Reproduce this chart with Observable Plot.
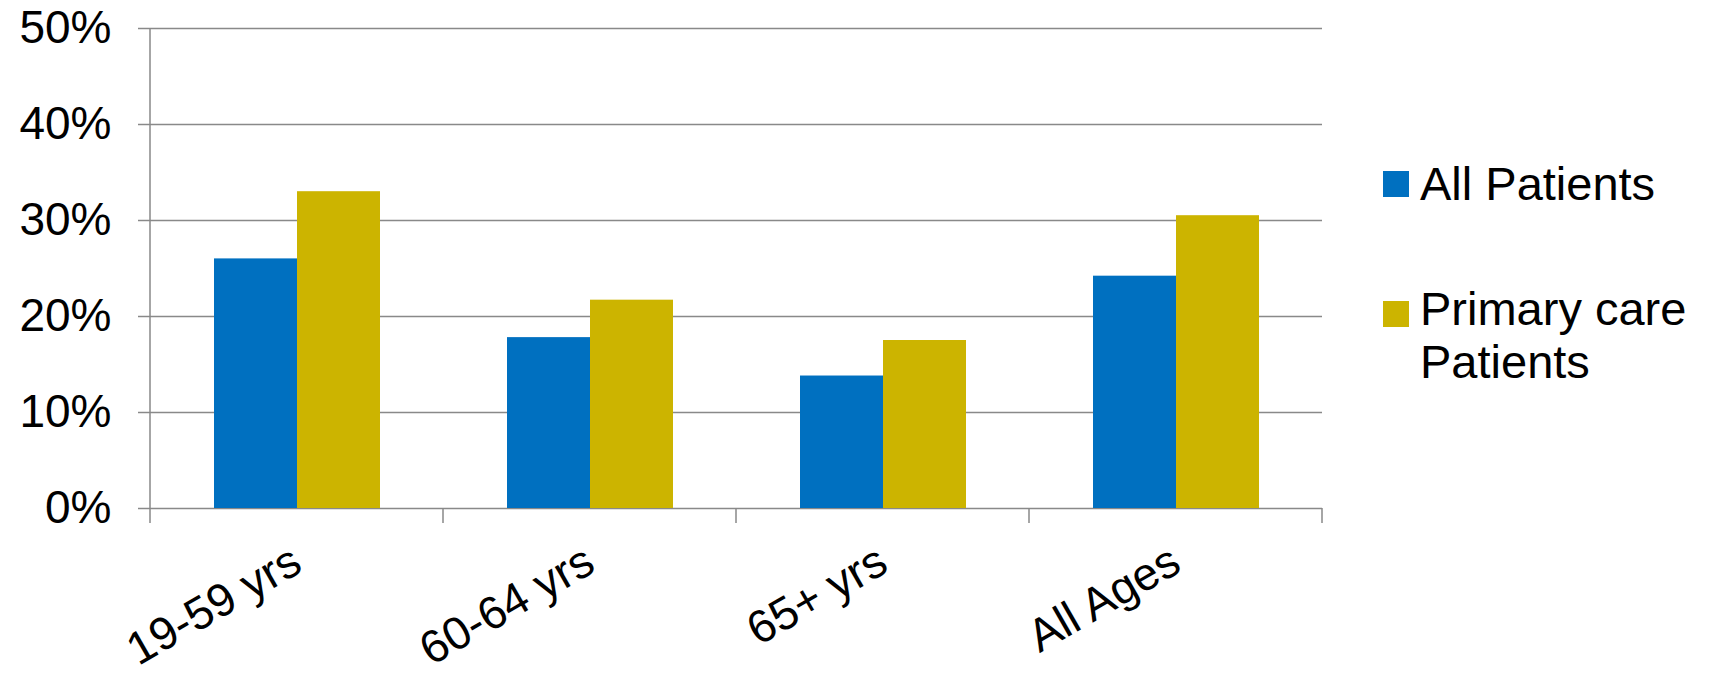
<!DOCTYPE html>
<html><head><meta charset="utf-8">
<script src="https://cdn.jsdelivr.net/npm/d3@7"></script>
<script src="https://cdn.jsdelivr.net/npm/@observablehq/plot@0.6"></script>
<style>
body{margin:0;background:#fff;}
#wrap{position:relative;width:1710px;height:676px;font-family:"Liberation Sans",Arial,sans-serif;}
.sw{position:absolute;width:26px;height:26px;}
.lt{position:absolute;font-size:47px;line-height:53px;color:#000;white-space:nowrap;}
</style></head><body><div id="wrap"></div>
<script>
const categories = ["19-59 yrs", "60-64 yrs", "65+ yrs", "All Ages"];
const seriesNames = ["All Patients", "Primary care Patients"];
const legendLabels = [["All Patients"], ["Primary care", "Patients"]];
const allPatients = [0.260, 0.178, 0.138, 0.242];
const primaryCare = [0.330, 0.217, 0.175, 0.305];
const seriesColors = ["#0070C0", "#CCB400"];
const yTicks = [0, 0.1, 0.2, 0.3, 0.4, 0.5];

const data = categories.flatMap((c, i) => [
  {cat: c, series: seriesNames[0], value: allPatients[i]},
  {cat: c, series: seriesNames[1], value: primaryCare[i]}
]);

const gridColor = "#898989";

const plot = Plot.plot({
  width: 1710, height: 676,
  marginLeft: 149, marginRight: 387, marginTop: 28, marginBottom: 168,
  style: {fontFamily: "'Liberation Sans', Arial, sans-serif", fontSize: "46px", background: "#fff", color: "#000", overflow: "visible"},
  fx: {domain: categories, padding: 0, axis: null},
  x: {domain: seriesNames, paddingInner: 0, paddingOuter: 0.75, axis: null},
  y: {domain: [0, 0.5], axis: null},
  color: {domain: seriesNames, range: seriesColors},
  marks: [
    Plot.gridY(yTicks, {stroke: gridColor, strokeOpacity: 1, strokeWidth: 1.5}),
    Plot.axisY(yTicks, {tickSize: 12, tickPadding: 27, tickFormat: d3.format(".0%"), stroke: gridColor, strokeWidth: 1.5, fill: "#000", fontSize: 46, label: null}),
    Plot.barY(data, {fx: "cat", x: "series", y: "value", fill: "series", inset: 0}),
    Plot.axisFx({anchor: "bottom", tickSize: 0, tickPadding: 49, tickRotate: -30, fontSize: 46, fill: "#000", label: null})
  ]
});

// axis line and category boundary ticks from the library's scales
const fx = plot.scale("fx"), y = plot.scale("y");
const svg = d3.select(plot);
const y0 = y.apply(0), yTop = y.apply(0.5), tickLen = 15;
const bounds = categories.map(c => fx.apply(c)).concat([fx.apply(categories[categories.length - 1]) + fx.bandwidth]);
const g = svg.append("g").attr("stroke", gridColor).attr("stroke-width", 1.5);
g.append("line").attr("x1", bounds[0]).attr("x2", bounds[0]).attr("y1", yTop).attr("y2", y0 + tickLen);
bounds.slice(1).forEach(b => g.append("line").attr("x1", b).attr("x2", b).attr("y1", y0).attr("y2", y0 + tickLen));

const wrap = document.getElementById("wrap");
wrap.appendChild(plot);
plot.style.position = "absolute"; plot.style.left = "0"; plot.style.top = "0";

// legend
const legendTops = [171, 301];
const textTops = [157, 282];
seriesNames.forEach((s, i) => {
  const sw = document.createElement("div");
  sw.className = "sw"; sw.style.background = seriesColors[i];
  sw.style.left = "1383px"; sw.style.top = legendTops[i] + "px";
  wrap.appendChild(sw);
  const t = document.createElement("div");
  t.className = "lt"; t.style.left = "1420px"; t.style.top = textTops[i] + "px";
  t.innerHTML = legendLabels[i].join("<br>");
  wrap.appendChild(t);
});
</script></body></html>
